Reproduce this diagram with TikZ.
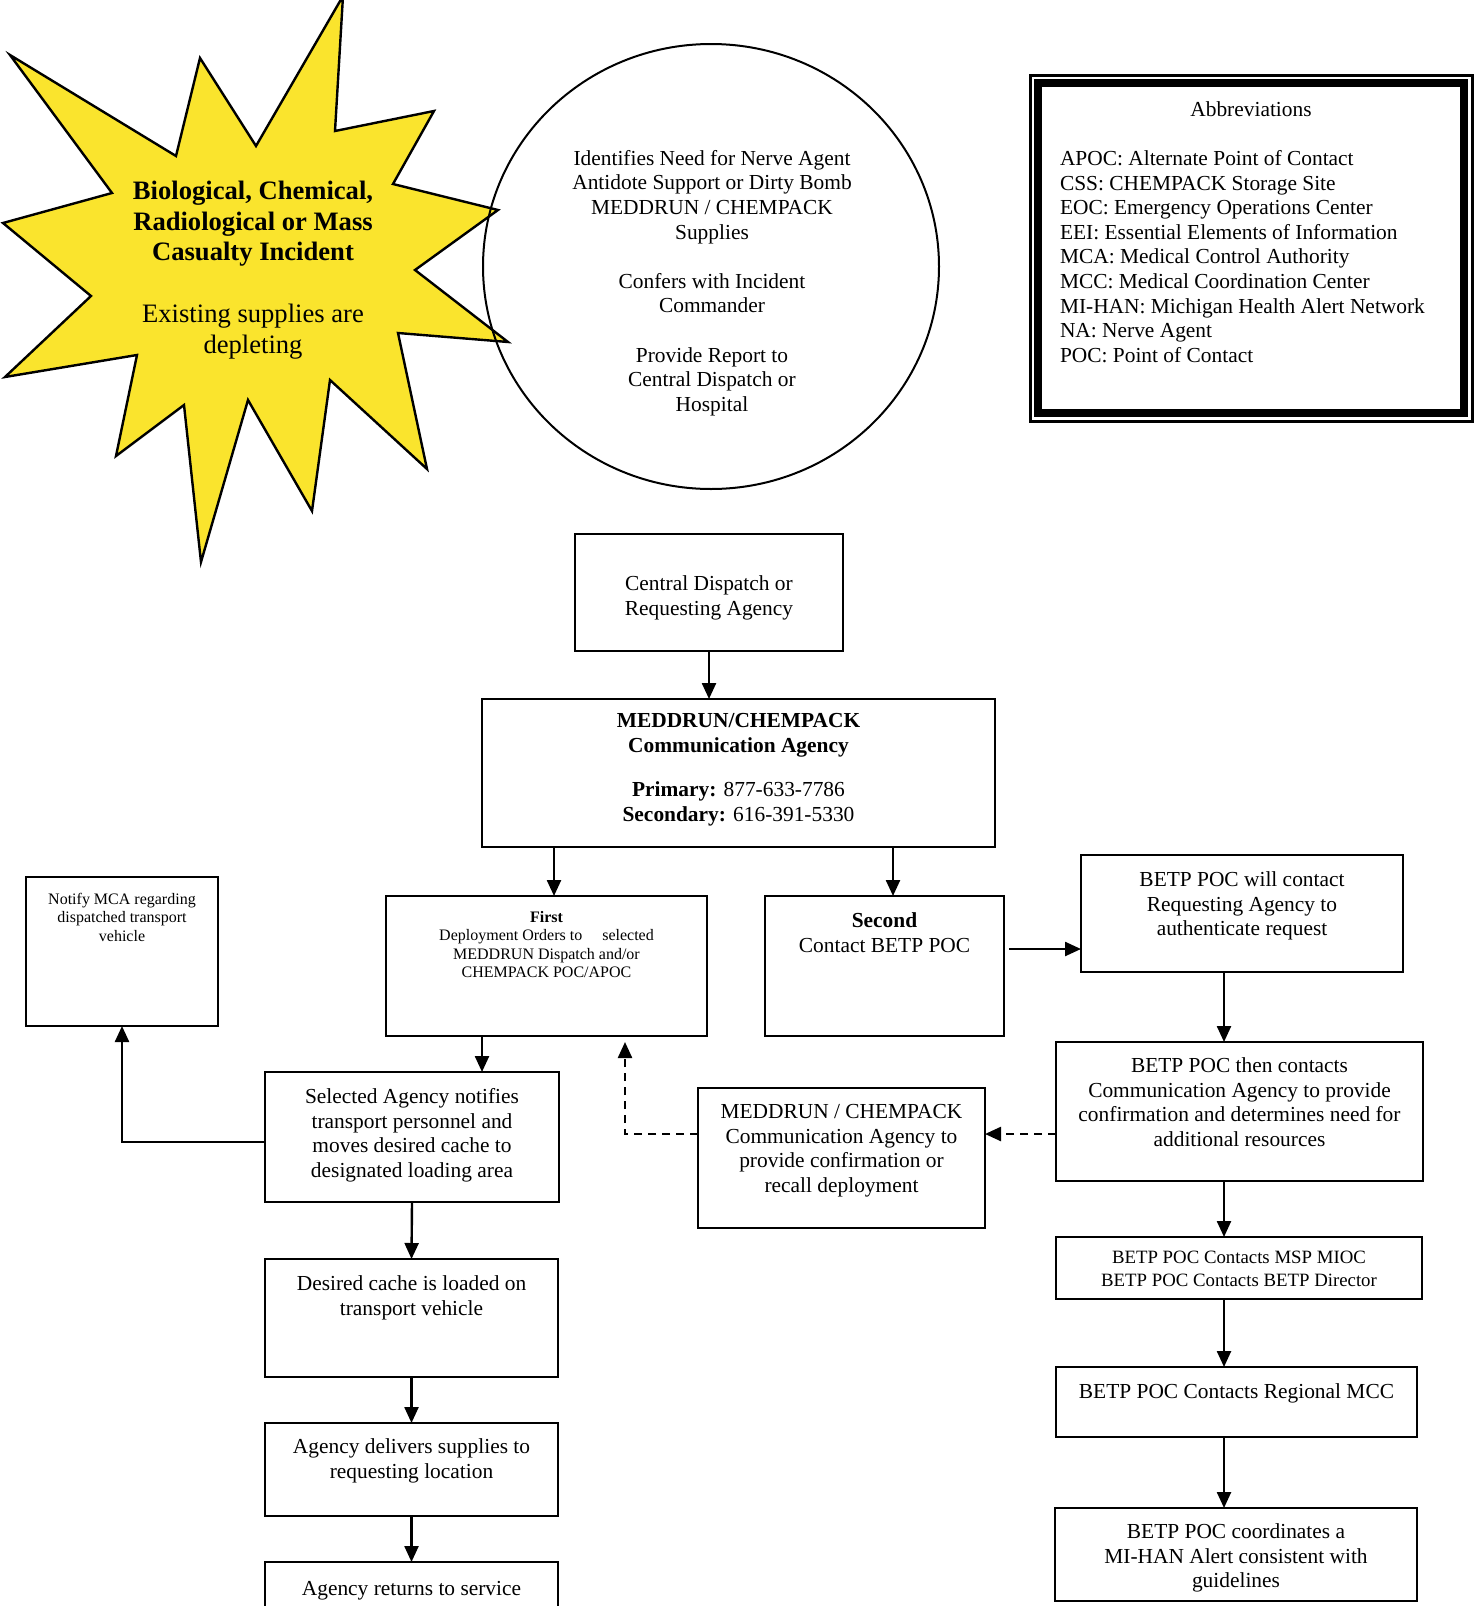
\documentclass[tikz,border=0pt]{standalone}
\usepackage{fontspec}
\setmainfont{Liberation Serif}
\usetikzlibrary{arrows.meta,shapes.geometric,calc}
\definecolor{burst}{RGB}{250,228,45}
\newcommand{\bxt}[4]{\parbox[c][#2][t]{#1}{\centering\vspace*{\dimexpr#3+1.2pt\relax}\strut#4}}
\begin{document}
\begin{tikzpicture}[x=0.5pt,y=-0.5pt,
  nf/.style={font=\fontsize{10.7}{12.3}\selectfont},
  sf/.style={font=\fontsize{8}{9.2}\selectfont},
  bx/.style={draw, line width=1pt, inner sep=0pt, outer sep=0pt},
  arr/.style={line width=1.2pt, -{Triangle[length=8pt,width=7pt]}},
  dsh/.style={arr, dash pattern=on 4pt off 3pt}]
\useasboundingbox (0,0) rectangle (1478,1606);
\clip (0,0) rectangle (1478,1606);

% starburst
\draw[fill=burst, line width=1.2pt, line join=miter]
  (10,55) -- (176,156) -- (200,58) -- (256,146) -- (343,-4) -- (335,131)
  -- (434,111) -- (393,184) -- (498,210) -- (415,270) -- (508,342)
  -- (398,333) -- (427,469) -- (330,380) -- (312,511) -- (248,400)
  -- (201,562) -- (184,405) -- (116,456) -- (137,355) -- (5,377)
  -- (91,296) -- (3,223) -- (112,193) -- cycle;
\node[align=center, font=\fontsize{13.3}{15.4}\selectfont] (burst) at (253,270)
  {\textbf{Biological, Chemical,}\\\textbf{Radiological or Mass}\\\textbf{Casualty Incident}\\[15.4pt]Existing supplies are\\depleting};

% circle
\node[draw, ellipse, line width=1pt, minimum width=228pt, minimum height=222.5pt, inner sep=0pt] (circ) at (711,266.5) {};
\node[nf, align=center] (circtext) at (712,283)
  {Identifies Need for Nerve Agent\\Antidote Support or Dirty Bomb\\MEDDRUN / CHEMPACK\\Supplies\\[12.3pt]Confers with Incident\\Commander\\[12.3pt]Provide Report to\\Central Dispatch or\\Hospital};

% abbreviations
\node[bx, line width=4pt, nf] (abbr) at (1251,248)
  {\parbox[c][165pt][t]{213pt}{\vspace*{8.1pt}\strut\centering Abbreviations\par
   \vspace{12.2pt}\raggedright\leftskip=11pt
   APOC: Alternate Point of Contact\\
   CSS: CHEMPACK Storage Site\\
   EOC: Emergency Operations Center\\
   EEI: Essential Elements of Information\\
   MCA: Medical Control Authority\\
   MCC: Medical Coordination Center\\
   MI-HAN: Michigan Health Alert Network\\
   NA: Nerve Agent\\
   POC: Point of Contact\par}};
\draw[line width=1.5pt] ([shift={(-4pt,4pt)}]abbr.north west) rectangle ([shift={(4pt,-4pt)}]abbr.south east);

% boxes
\node[bx,nf] (central) at (709,592.5) {\bxt{134pt}{58.5pt}{18.4pt}{Central Dispatch or\\Requesting Agency}};
\node[bx,nf] (med) at (738.5,773) {\bxt{256.5pt}{74pt}{4.4pt}{\textbf{MEDDRUN/CHEMPACK}\\\textbf{Communication Agency}\\[10pt]\textbf{Primary:} 877-633-7786\\\textbf{Secondary:} 616-391-5330}};
\node[bx,sf] (notify) at (122,951.5) {\bxt{96pt}{74.5pt}{6.1pt}{Notify MCA regarding\\dispatched transport\\vehicle}};
\node[bx,sf] (first) at (546.5,966) {\bxt{160.5pt}{70pt}{5.6pt}{\textbf{First}\\Deployment Orders to\hspace{1.25em}selected\\MEDDRUN Dispatch and/or\\CHEMPACK POC/APOC}};
\node[bx,nf] (second) at (884.5,966) {\bxt{119.5pt}{70pt}{5.9pt}{\textbf{Second}\\Contact BETP POC}};
\node[bx,nf] (b1) at (1242,913.5) {\bxt{161pt}{58.5pt}{5.9pt}{BETP POC will contact\\Requesting Agency to\\authenticate request}};
\node[bx,nf] (b2) at (1239.5,1111.5) {\bxt{183.5pt}{69.5pt}{5.4pt}{BETP POC then contacts\\Communication Agency to provide\\confirmation and determines need for\\additional resources}};
\node[bx,nf] (conf) at (841.5,1158) {\bxt{143.5pt}{70pt}{5.4pt}{MEDDRUN / CHEMPACK\\Communication Agency to\\provide confirmation or\\recall deployment}};
\node[bx,nf] (sel) at (412,1137) {\bxt{147pt}{65pt}{5.9pt}{Selected Agency notifies\\transport personnel and\\moves desired cache to\\designated loading area}};
\node[bx,nf] (des) at (411.5,1318) {\bxt{146.5pt}{59pt}{5.9pt}{Desired cache is loaded on\\transport vehicle}};
\node[bx,nf] (del) at (411.5,1469.5) {\bxt{146.5pt}{46.5pt}{5.4pt}{Agency delivers supplies to\\requesting location}};
\node[bx,nf] (ret) at (411.5,1602) {\bxt{146.5pt}{40pt}{6.9pt}{Agency returns to service}};
\node[bx,font=\fontsize{9.4}{11.2}\selectfont] (b3) at (1239,1268) {\bxt{183pt}{31pt}{4.4pt}{BETP POC Contacts MSP MIOC\\BETP POC Contacts BETP Director}};
\node[bx,nf] (b4) at (1236.5,1402) {\bxt{180.5pt}{35pt}{5.9pt}{BETP POC Contacts Regional MCC}};
\node[bx,nf] (b5) at (1236,1554.5) {\bxt{181pt}{46.5pt}{5.4pt}{BETP POC coordinates a\\MI-HAN Alert consistent with\\guidelines}};

% helper coordinates
\coordinate (cx1) at (554,0);
\coordinate (cx2) at (893,0);
\coordinate (rx) at (1224,0);
\coordinate (lx) at (482,0);
\coordinate (fx) at (625,0);
\coordinate (sx) at (1009,0);
\coordinate (dy) at (0,1134);
\coordinate (sy) at (0,949);
\coordinate (ly) at (0,1142);

% connectors
\draw[arr] (central.south) -- (central.south |- med.north);
\draw[arr] (cx1 |- med.south) -- (cx1 |- first.north);
\draw[arr] (cx2 |- med.south) -- (cx2 |- second.north);
\draw[arr] (sx |- sy) -- (b1.west |- sy);
\draw[arr] (rx |- b1.south) -- (rx |- b2.north);
\draw[arr] (rx |- b2.south) -- (rx |- b3.north);
\draw[arr] (rx |- b3.south) -- (rx |- b4.north);
\draw[arr] (rx |- b4.south) -- (rx |- b5.north);
\draw[dsh] (b2.west |- dy) -- (conf.east |- dy);
\draw[dsh, shorten >=3pt] (conf.west |- dy) -| (fx |- first.south);
\draw[arr] (lx |- first.south) -- (lx |- sel.north);
\draw[arr] (sel.west |- ly) -| (notify.south);
\draw[arr] (sel.south) -- (des.north);
\draw[arr] (des.south) -- (del.north);
\draw[arr] (del.south) -- (ret.north);
\end{tikzpicture}
\end{document}
